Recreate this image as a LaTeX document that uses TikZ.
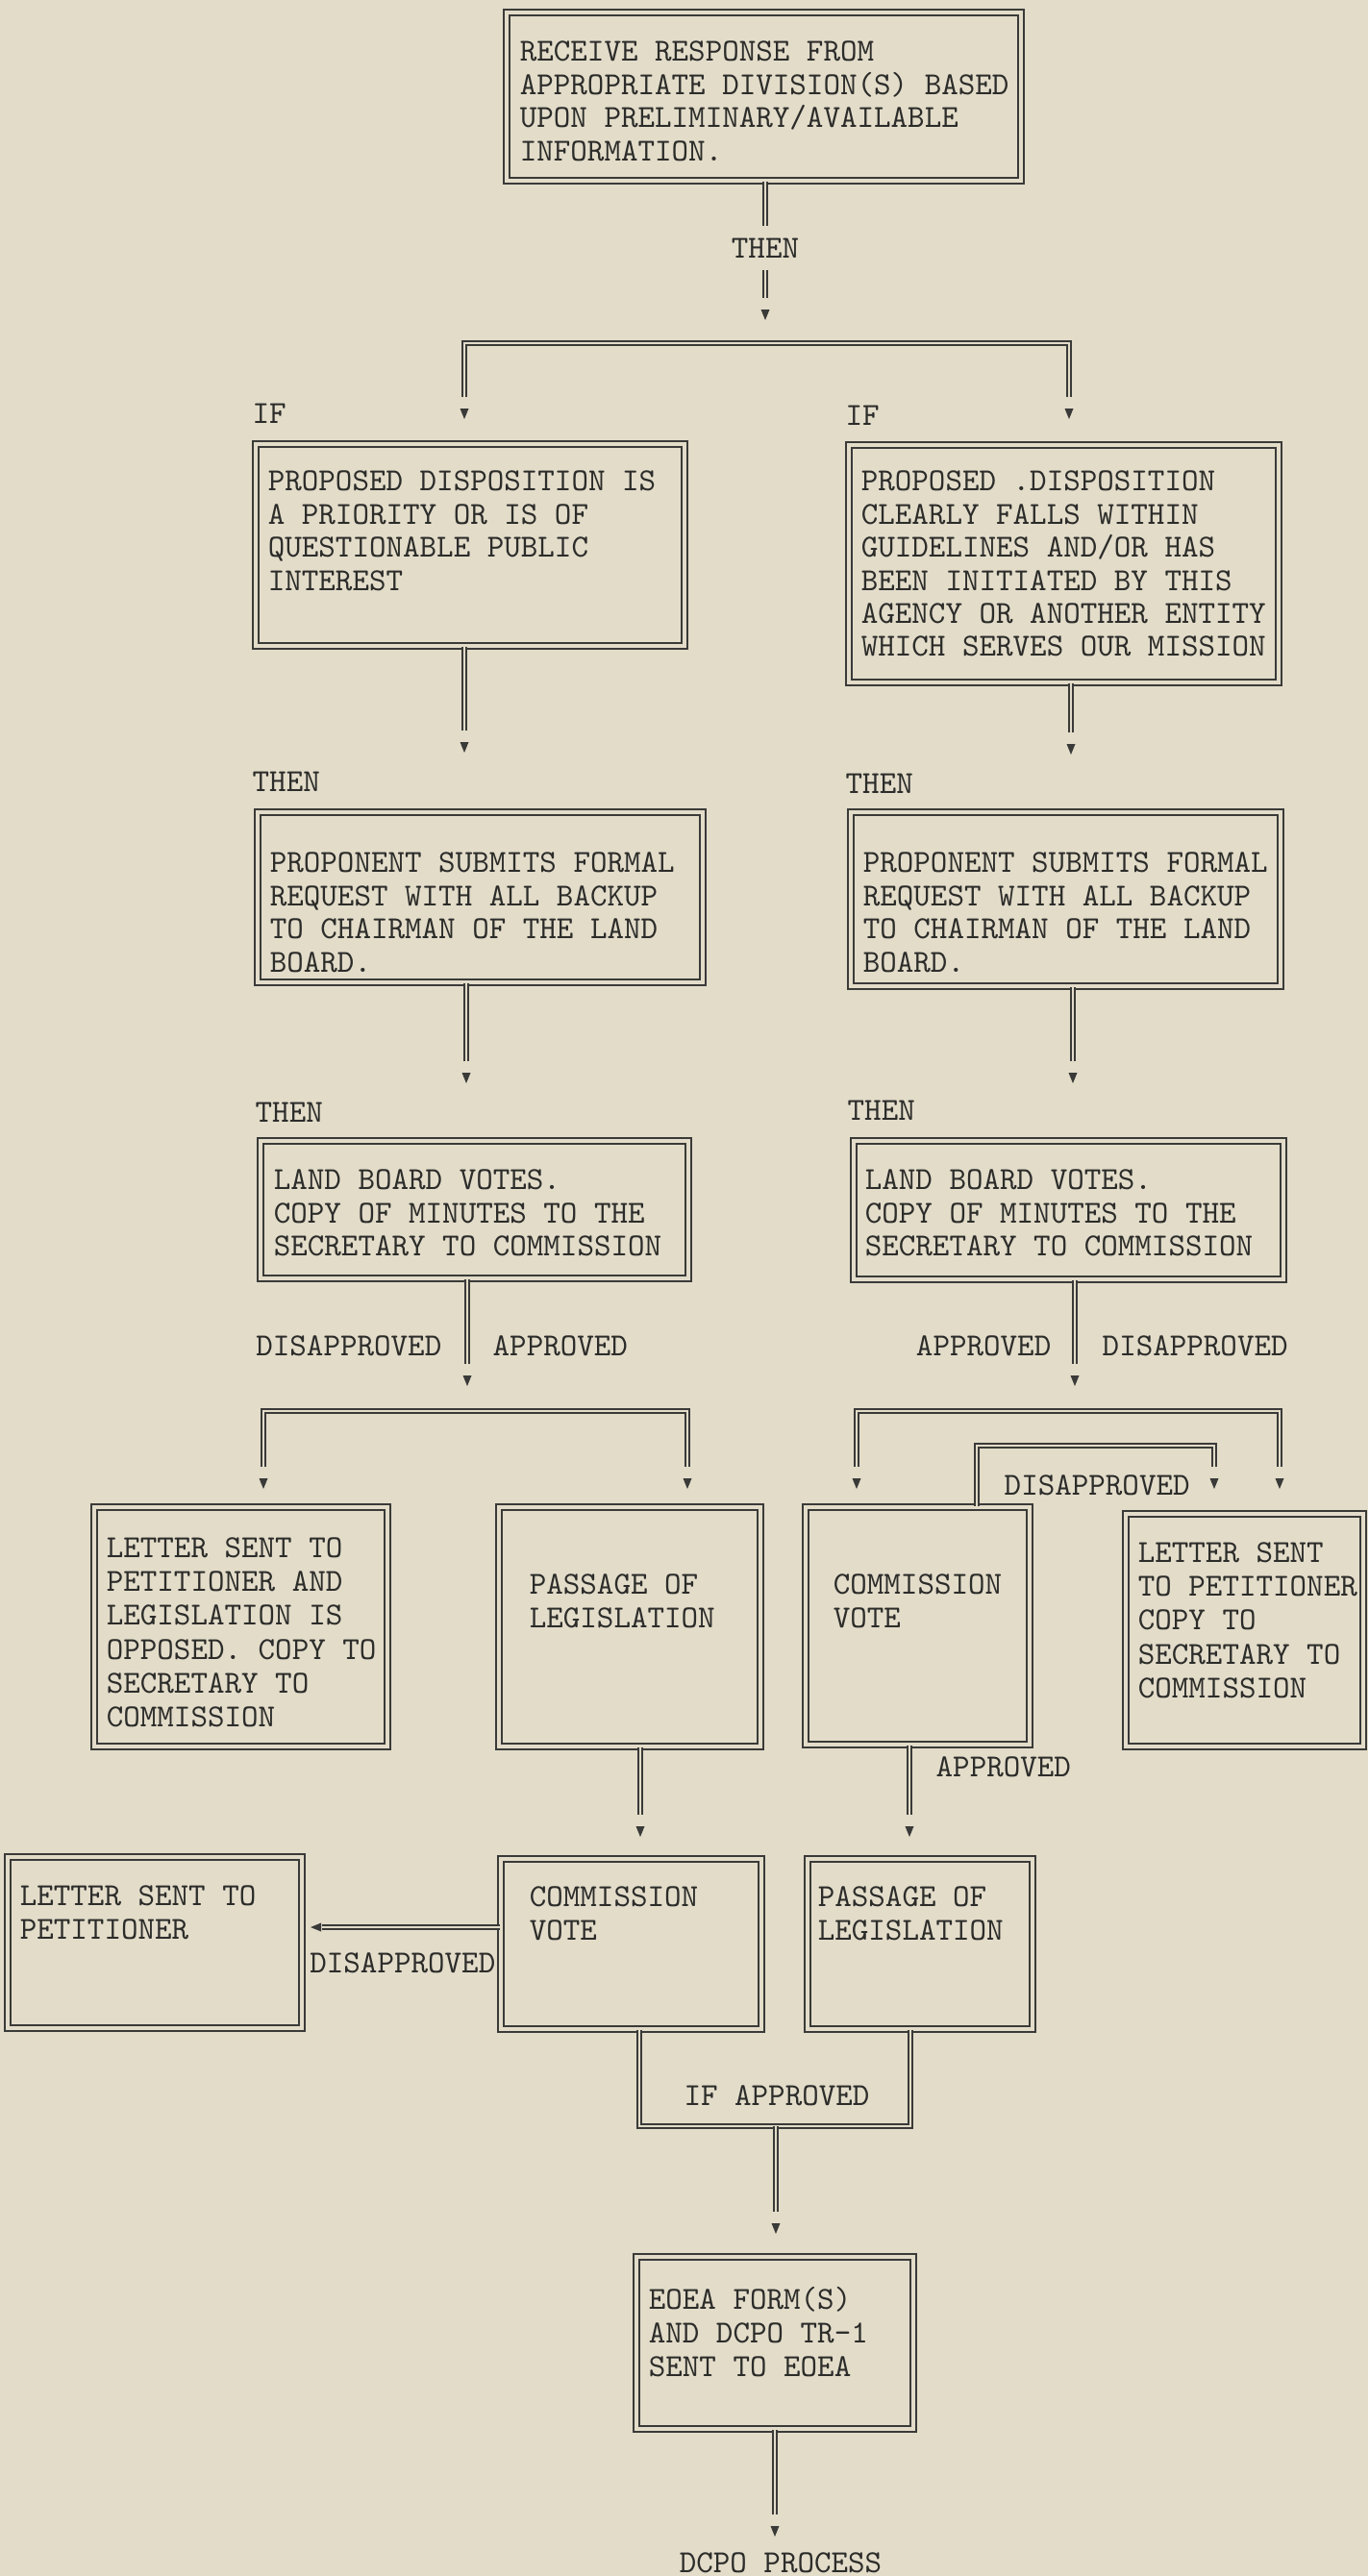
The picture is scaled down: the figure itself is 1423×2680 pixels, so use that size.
\documentclass[tikz,border=0pt]{standalone}
\usepackage{tikz}
\usetikzlibrary{fit, calc}

\definecolor{paper}{RGB}{226,220,201}
\definecolor{ink}{RGB}{58,58,56}

% small filled arrow heads
\newcommand{\tipdown}[1]{\fill[ink] (#1) -- ++(-4.5,-11) -- ++(9,0) -- cycle;}
\newcommand{\tipleft}[1]{\fill[ink] (#1) -- ++(11,-4.5) -- ++(0,9) -- cycle;}

\begin{document}
\begin{tikzpicture}[x=0.01cm, y=-0.01cm,
        box/.style={draw=ink, double=paper, double distance=1.2pt, line width=0.5pt, inner sep=0pt},
        dline/.style={draw=ink, double=paper, double distance=0.8pt, line width=0.45pt},
        gap/.style={shorten >=0.23cm},
        txt/.style={font={\fontsize{9.5}{9.8}\selectfont\ttfamily\lineskiplimit=-20pt}, text=ink!75!black, align=left, inner sep=0pt, anchor=north west},
        wide/.style={font={\fontsize{9.5}{10}\selectfont\ttfamily\lineskiplimit=-20pt}},
        lbl/.style={font={\fontsize{9.5}{9.8}\selectfont\ttfamily}, text=ink!75!black, inner sep=0pt}]
        \useasboundingbox (0,0) rectangle (1423,2680);
        \fill[paper] (0,0) rectangle (1423,2680);

        % Start
        \node[box, fit={(527,13) (1062,188)}] (recv) {};
        \node[txt] (recvT) at ([shift={(14,30)}]recv.north west) {RECEIVE RESPONSE FROM\\APPROPRIATE DIVISION(S) BASED\\UPON PRELIMINARY/AVAILABLE\\INFORMATION.};
        \node[lbl, inner ysep=3.5pt] (then0) at (796,258) {THEN};
        \coordinate (t0) at (796,333);
        \draw[dline] (recv.south -| then0) -- (then0.north);
        \draw[dline, gap] (then0.south) -- (t0);
        \tipdown{t0}

        % First split
        \coordinate (tIF1) at (483,436);
        \coordinate (tIF2) at (1112,436);
        \draw[dline, shorten <=0.23cm, shorten >=0.23cm] (tIF1) |- (796,357) -| (tIF2);
        \tipdown{tIF1} \tipdown{tIF2}
        \node[lbl, anchor=west] (if1) at (262,430) {IF};
        \node[lbl, anchor=west] (if2) at (879,432) {IF};

        % Conditions
        \node[box, fit={(266,462) (712,672)}] (prio) {};
        \node[txt] (prioT) at ([shift={(13,28)}]prio.north west) {PROPOSED DISPOSITION IS\\A PRIORITY OR IS OF\\QUESTIONABLE PUBLIC\\INTEREST};
        \node[box, fit={(883,463) (1330,710)}] (guide) {};
        \node[txt] (guideT) at ([shift={(13,27)}]guide.north west) {PROPOSED .DISPOSITION\\CLEARLY FALLS WITHIN\\GUIDELINES AND/OR HAS\\BEEN INITIATED BY THIS\\AGENCY OR ANOTHER ENTITY\\WHICH SERVES OUR MISSION};
        \coordinate (tP1) at (483,783);
        \coordinate (tP2) at (1114,785);
        \draw[dline, gap] (prio.south -| tP1) -- (tP1);
        \draw[dline, gap] (guide.south -| tP2) -- (tP2);
        \tipdown{tP1} \tipdown{tP2}
        \node[lbl, anchor=west] (then1) at (262,813) {THEN};
        \node[lbl, anchor=west] (then2) at (879,815) {THEN};

        % Formal requests
        \node[box, fit={(268,845) (731,1022)}] (req1) {};
        \node[txt] (req1T) at ([shift={(13,42)}]req1.north west) {PROPONENT SUBMITS FORMAL\\REQUEST WITH ALL BACKUP\\TO CHAIRMAN OF THE LAND\\BOARD.};
        \node[box, fit={(885,845) (1332,1026)}] (req2) {};
        \node[txt] (req2T) at ([shift={(13,42)}]req2.north west) {PROPONENT SUBMITS FORMAL\\REQUEST WITH ALL BACKUP\\TO CHAIRMAN OF THE LAND\\BOARD.};
        \coordinate (tR1) at (485,1127);
        \coordinate (tR2) at (1116,1127);
        \draw[dline, gap] (req1.south -| tR1) -- (tR1);
        \draw[dline, gap] (req2.south -| tR2) -- (tR2);
        \tipdown{tR1} \tipdown{tR2}
        \node[lbl, anchor=west] (then3) at (265,1157) {THEN};
        \node[lbl, anchor=west] (then4) at (881,1155) {THEN};

        % Land board votes
        \node[box, fit={(271,1187) (716,1330)}] (vote1) {};
        \node[txt] (vote1T) at ([shift={(14,30)}]vote1.north west) {LAND BOARD VOTES.\\COPY OF MINUTES TO THE\\SECRETARY TO COMMISSION};
        \node[box, fit={(888,1187) (1335,1331)}] (vote2) {};
        \node[txt] (vote2T) at ([shift={(12,30)}]vote2.north west) {LAND BOARD VOTES.\\COPY OF MINUTES TO THE\\SECRETARY TO COMMISSION};
        \coordinate (tV1) at (486,1442);
        \coordinate (tV2) at (1118,1442);
        \draw[dline, gap] (vote1.south -| tV1) -- (tV1);
        \draw[dline, gap] (vote2.south -| tV2) -- (tV2);
        \tipdown{tV1} \tipdown{tV2}
        \node[lbl, anchor=east] (no1) at (460,1400) {DISAPPROVED};
        \node[lbl, anchor=west] (yes1) at (512,1400) {APPROVED};
        \node[lbl, anchor=east] (yes2) at (1094,1400) {APPROVED};
        \node[lbl, anchor=west] (no2) at (1146,1400) {DISAPPROVED};

        % Second splits
        \coordinate (tA1) at (274,1549);
        \coordinate (tA2) at (715,1549);
        \coordinate (tB1) at (891,1549);
        \coordinate (tB2) at (1331,1549);
        \draw[dline, shorten <=0.23cm, shorten >=0.23cm] (tA1) |- (500,1468) -| (tA2);
        \draw[dline, shorten <=0.23cm, shorten >=0.23cm] (tB1) |- (1110,1468) -| (tB2);
        \tipdown{tA1} \tipdown{tA2} \tipdown{tB1} \tipdown{tB2}

        % Outcomes
        \node[box, fit={(98,1568) (403,1817)}] (lt1) {};
        \node[txt, wide] (lt1T) at ([shift={(13,32)}]lt1.north west) {LETTER SENT TO\\PETITIONER AND\\LEGISLATION IS\\OPPOSED. COPY TO\\SECRETARY TO\\COMMISSION};
        \node[box, fit={(519,1568) (791,1817)}] (pass1) {};
        \node[txt] (pass1T) at ([shift={(32,70)}]pass1.north west) {PASSAGE OF\\LEGISLATION};
        \node[box, fit={(838,1568) (1071,1815)}] (cv1) {};
        \node[txt] (cv1T) at ([shift={(29,70)}]cv1.north west) {COMMISSION\\VOTE};
        \node[box, fit={(1171,1575) (1418,1817)}] (lt2) {};
        \node[txt, wide] (lt2T) at ([shift={(13,30)}]lt2.north west) {LETTER SENT\\TO PETITIONER\\COPY TO\\SECRETARY TO\\COMMISSION};

        % Commission vote, disapproved
        \coordinate (lp) at (1016,1504);
        \coordinate (tB3) at (1263,1549);
        \draw[dline, gap] (cv1.north -| lp) -- (lp) -| (tB3);
        \tipdown{tB3}
        \node[lbl, anchor=west] (no3) at (1044,1545) {DISAPPROVED};

        % Down to second row
        \coordinate (tC1) at (666,1911);
        \coordinate (tC2) at (946,1911);
        \draw[dline, gap] (pass1.south -| tC1) -- (tC1);
        \draw[dline, gap] (cv1.south -| tC2) -- (tC2);
        \tipdown{tC1} \tipdown{tC2}
        \node[lbl, anchor=west] (yes3) at (973,1838) {APPROVED};

        % Second row
        \node[box, fit={(8,1932) (314,2110)}] (lt3) {};
        \node[txt] (lt3T) at ([shift={(13,30)}]lt3.north west) {LETTER SENT TO\\PETITIONER};
        \node[box, fit={(521,1934) (792,2111)}] (cv2) {};
        \node[txt] (cv2T) at ([shift={(30,29)}]cv2.north west) {COMMISSION\\VOTE};
        \node[box, fit={(840,1934) (1074,2111)}] (pass2) {};
        \node[txt] (pass2T) at ([shift={(11,29)}]pass2.north west) {PASSAGE OF\\LEGISLATION};
        \coordinate (tD) at (323,2005);
        \draw[dline, shorten >=0.12cm] (cv2.west |- tD) -- (tD);
        \tipleft{tD}
        \node[lbl, anchor=east] (no4) at (516,2042) {DISAPPROVED};

        % Merge
        \coordinate (uL) at (665,2212);
        \coordinate (uR) at (947,2212);
        \coordinate (uM) at (807,2212);
        \draw[dline] (cv2.south -| uL) -- (uL) -- (uR) -- (pass2.south -| uR);
        \node[lbl] (ifap) at (808,2180) {IF APPROVED};
        \coordinate (tE) at (807,2324);
        \draw[dline, gap] (uM) -- (tE);
        \tipdown{tE}

        % End
        \node[box, fit={(662,2348) (950,2527)}] (eoea) {};
        \node[txt, wide] (eoeaT) at ([shift={(13,31)}]eoea.north west) {EOEA FORM(S)\\AND DCPO TR-1\\SENT TO EOEA};
        \coordinate (tF) at (806,2639);
        \draw[dline, gap] (eoea.south -| tF) -- (tF);
        \tipdown{tF}
        \node[lbl] (dcpo) at (812,2666) {DCPO PROCESS};
\end{tikzpicture}
\end{document}
